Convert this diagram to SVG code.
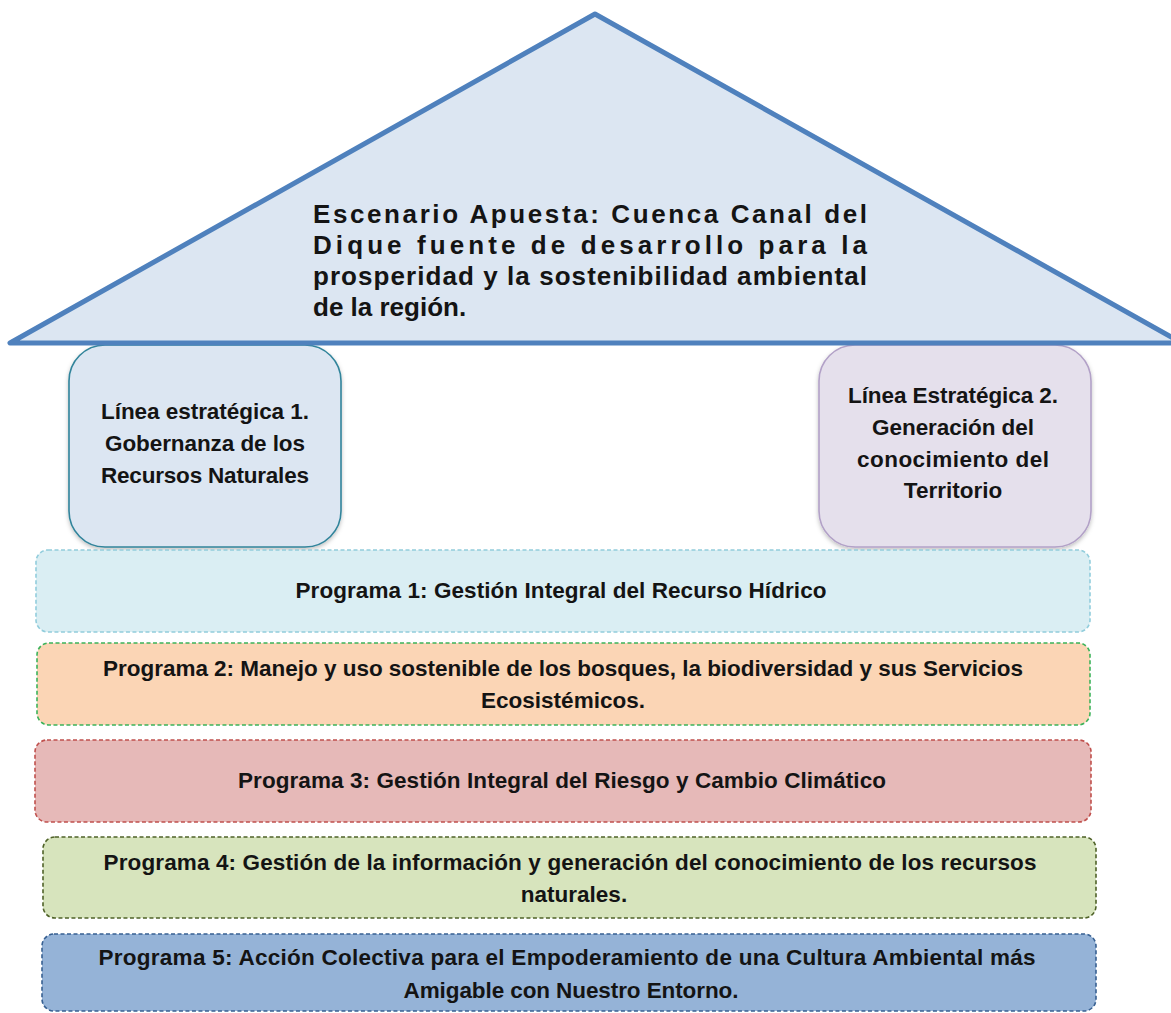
<svg xmlns="http://www.w3.org/2000/svg" width="1171" height="1013" viewBox="0 0 1171 1013">
<style>
.t{font-family:"Liberation Sans",Arial,sans-serif;font-weight:bold;fill:#141414;}
.c{font-size:22.5px;text-anchor:middle;}
.title{font-size:26px;}
.prog{stroke-width:1.6;stroke-dasharray:4 2.5;}
</style>
<defs>
<filter id="sh" x="-10%" y="-10%" width="120%" height="125%">
<feDropShadow dx="0" dy="2" stdDeviation="2" flood-color="#000" flood-opacity="0.25"/>
</filter>
</defs>
<rect width="1171" height="1013" fill="#fff"/>

<g id="pillar1">
<rect x="69" y="345" width="272" height="202" rx="36" fill="#dce6f2" stroke="#31849b" stroke-width="1.6" filter="url(#sh)"/>
<text class="t c" x="205" y="419" textLength="208">Línea estratégica 1.</text>
<text class="t c" x="205" y="451" textLength="200">Gobernanza de los</text>
<text class="t c" x="205" y="483" textLength="208">Recursos Naturales</text>
</g>

<g id="pillar2">
<rect x="819" y="345" width="272" height="202" rx="36" fill="#e5e0ec" stroke="#b2a1c7" stroke-width="1.6" filter="url(#sh)"/>
<text class="t c" x="953" y="403" textLength="210">Línea Estratégica 2.</text>
<text class="t c" x="953" y="435" textLength="162">Generación del</text>
<text class="t c" x="953" y="467" textLength="192">conocimiento del</text>
<text class="t c" x="953" y="498">Territorio</text>
</g>

<g id="roof">
<polygon points="595,14 10,343 1182,343" fill="#dce6f2" stroke="#4f81bd" stroke-width="5" stroke-linejoin="round"/>
<text class="t title" x="313" y="223" textLength="554" lengthAdjust="spacing">Escenario Apuesta: Cuenca Canal del</text>
<text class="t title" x="313" y="254" textLength="554" lengthAdjust="spacing">Dique fuente de desarrollo para la</text>
<text class="t title" x="313" y="285" textLength="554" lengthAdjust="spacing">prosperidad y la sostenibilidad ambiental</text>
<text class="t title" x="313" y="316">de la región.</text>
</g>

<g id="programa1">
<rect class="prog" x="36" y="550" width="1054" height="82" rx="12" fill="#daeef3" stroke="#92cddc"/>
<text class="t c" x="561" y="598" textLength="531">Programa 1: Gestión Integral del Recurso Hídrico</text>
</g>

<g id="programa2">
<rect class="prog" x="37" y="643" width="1053" height="82" rx="12" fill="#fbd5b5" stroke="#3cb35a"/>
<text class="t c" x="563" y="676" textLength="920">Programa 2: Manejo y uso sostenible de los bosques, la biodiversidad y sus Servicios</text>
<text class="t c" x="563" y="708">Ecosistémicos.</text>
</g>

<g id="programa3">
<rect class="prog" x="35" y="740" width="1056" height="82" rx="12" fill="#e6b9b8" stroke="#c0504d"/>
<text class="t c" x="562" y="788" textLength="648">Programa 3: Gestión Integral del Riesgo y Cambio Climático</text>
</g>

<g id="programa4">
<rect class="prog" x="43" y="837" width="1053" height="81" rx="12" fill="#d7e4bd" stroke="#4f6228"/>
<text class="t c" x="570" y="870" textLength="933">Programa 4: Gestión de la información y generación del conocimiento de los recursos</text>
<text class="t c" x="574" y="902">naturales.</text>
</g>

<g id="programa5">
<rect class="prog" x="42" y="934" width="1054" height="77" rx="12" fill="#95b3d7" stroke="#376092"/>
<text class="t c" x="567" y="965" textLength="937">Programa 5: Acción Colectiva para el Empoderamiento de una Cultura Ambiental más</text>
<text class="t c" x="571" y="998" textLength="335">Amigable con Nuestro Entorno.</text>
</g>

<g id="connectors"></g>
</svg>
